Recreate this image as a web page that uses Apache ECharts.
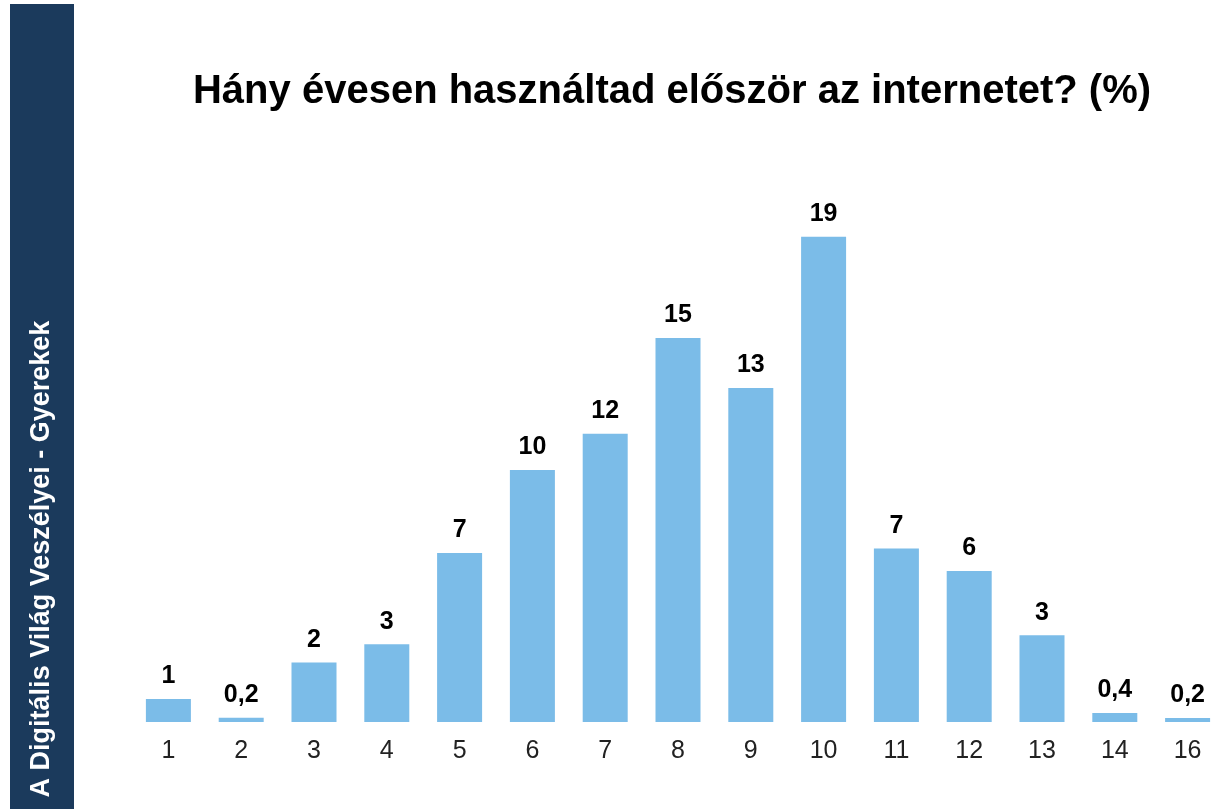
<!DOCTYPE html>
<html>
<head>
<meta charset="utf-8">
<script src="https://cdn.jsdelivr.net/npm/echarts@6/dist/echarts.min.js"></script>
<style>
  html, body { margin: 0; padding: 0; background: #fff; }
  #chart { width: 1214px; height: 809px; }
</style>
</head>
<body>
<div id="chart"></div>
<script>
// age when first used the internet
const ages = ["1", "2", "3", "4", "5", "6", "7", "8", "9", "10", "11", "12", "13", "14", "16"]
// bar heights (percent)
const shares = [0.9, 0.17, 2.33, 3.05, 6.63, 9.88, 11.3, 15.06, 13.1, 19.03, 6.8, 5.92, 3.4, 0.35, 0.16]
// rounded labels printed above the bars
const shareLabels = ["1", "0,2", "2", "3", "7", "10", "12", "15", "13", "19", "7", "6", "3", "0,4", "0,2"]

const font = "'Liberation Sans', Arial, sans-serif"

const chart = echarts.init(document.getElementById("chart"))

chart.setOption({
  backgroundColor: "#fff",
  animation: false,
  title: {
    text: "Hány évesen használtad először az internetet? (%)",
    left: 667,
    textAlign: "center",
    top: 67,
    textStyle: { fontFamily: font, fontWeight: "bold", fontSize: 40, color: "#000" },
  },
  graphic: [
    {
      type: "rect",
      shape: { x: 10, y: 4, width: 64, height: 805 },
      style: { fill: "#1B3A5C" },
    },
    {
      type: "text",
      x: 42,
      y: 559,
      rotation: Math.PI / 2,
      style: {
        text: "A Digitális Világ Veszélyei - Gyerekek",
        fill: "#fff",
        font: "bold 27px " + font,
        align: "center",
        verticalAlign: "middle",
      },
    },
  ],
  grid: { left: 132, width: 1092, top: 212, bottom: 87, outerBoundsMode: "none" },
  xAxis: {
    type: "category",
    data: ages,
    axisLine: { show: false },
    axisTick: { show: false },
    axisLabel: { color: "#222", fontFamily: font, fontSize: 25, margin: 17 },
  },
  yAxis: {
    type: "value",
    min: 0,
    max: 20,
    show: false,
    splitLine: { show: false },
  },
  series: [
    {
      type: "bar",
      data: shares,
      barWidth: 45,
      itemStyle: { color: "#7BBCE8" },
      label: {
        show: true,
        position: "top",
        distance: 10,
        color: "#000",
        fontFamily: font,
        fontWeight: "bold",
        fontSize: 25,
        formatter: p => shareLabels[p.dataIndex],
      },
    },
  ],
})
</script>
</body>
</html>
